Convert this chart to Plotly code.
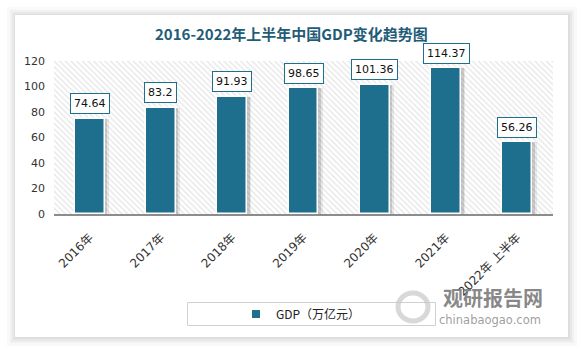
import plotly.graph_objects as go

# ---- data ----
categories = ["2016年", "2017年", "2018年", "2019年", "2020年", "2021年", "2022年 上半年"]
gdp_values = [74.64, 83.2, 91.93, 98.65, 101.36, 114.37, 56.26]
y_ticks = [0, 20, 40, 60, 80, 100, 120]
series_name = "GDP（万亿元）"
title_text = "2016-2022年上半年中国GDP变化趋势图"

# ---- layout constants ----
W, H = 583, 349
L, R, T, B = 54, 30, 61, 135
PW, PH = W - L - R, H - T - B
BAR_COLOR = "#1e6e8e"
BAR_W = 0.42

def xp(px):
    return (px - L) / PW

def yp(py):
    return (H - B - py) / PH

idx = list(range(len(categories)))
y_max = y_ticks[-1]

fig = go.Figure()

# hatched plot background
fig.add_trace(go.Bar(
    x=[(len(categories) - 1) / 2], y=[y_max], width=[len(categories)],
    marker=dict(color="white", line=dict(width=0),
                pattern=dict(shape="\\", fgcolor="#cfcfcf", bgcolor="white", size=4, solidity=0.35)),
    hoverinfo="skip", showlegend=False,
))

# bar shadows
for off, alpha in [(0.06, 0.08), (0.035, 0.13)]:
    fig.add_trace(go.Bar(
        x=idx, y=gdp_values, width=BAR_W, offset=-BAR_W / 2 + off,
        marker=dict(color=f"rgba(0,0,0,{alpha})", line=dict(width=0)),
        hoverinfo="skip", showlegend=False,
    ))

# main bars
fig.add_trace(go.Bar(
    x=idx, y=gdp_values, width=BAR_W, offset=-BAR_W / 2,
    marker=dict(color=BAR_COLOR, line=dict(color="white", width=1.5)),
    name=series_name, showlegend=False,
))

# legend entry
fig.add_trace(go.Scatter(
    x=[None], y=[None], mode="markers", name=series_name,
    marker=dict(symbol="square", size=8, color=BAR_COLOR),
))

# data labels
annotations = []
for i, v in zip(idx, gdp_values):
    annotations.append(dict(
        x=i, y=v, xref="x", yref="y", text=f"{v:g}", showarrow=False,
        yshift=15, font=dict(family="DejaVu Sans", size=11, color="#111111"),
        bgcolor="white", bordercolor=BAR_COLOR, borderwidth=1, borderpad=3,
    ))

# title
annotations.append(dict(
    x=xp(291), y=yp(33), xref="paper", yref="paper", text=f"<b>{title_text}</b>", showarrow=False,
    font=dict(family="Noto Sans CJK SC", size=15, color="#1f5c78"),
    xanchor="center", yanchor="middle",
))

# watermark
annotations.append(dict(
    x=xp(493), y=yp(297), xref="paper", yref="paper", text="<b>观研报告网</b>", showarrow=False,
    font=dict(family="Noto Sans CJK SC", size=20, color="rgba(115,115,115,0.85)"),
    xanchor="center", yanchor="middle",
))
annotations.append(dict(
    x=xp(490), y=yp(320), xref="paper", yref="paper", text="chinabaogao.com", showarrow=False,
    font=dict(family="DejaVu Sans", size=11.5, color="rgba(140,140,140,0.85)"),
    xanchor="center", yanchor="middle",
))

shapes = []
# card shadow
for g, a in [(9, 0.025), (6, 0.03), (4, 0.035), (2, 0.04)]:
    shapes.append(dict(type="rect", xref="paper", yref="paper", layer="below",
                       x0=xp(15 - g + 1), x1=xp(568 + g), y0=yp(15 - g + 1), y1=yp(337 + g),
                       line=dict(width=0), fillcolor=f"rgba(0,0,0,{a})"))
# white card
shapes.append(dict(type="rect", xref="paper", yref="paper", layer="below",
                   x0=xp(15), x1=xp(568), y0=yp(15), y1=yp(337),
                   line=dict(width=0), fillcolor="white"))
# legend box
shapes.append(dict(type="rect", xref="paper", yref="paper", layer="below",
                   x0=xp(187.5), x1=xp(435.5), y0=yp(302.5), y1=yp(325.5),
                   line=dict(width=1, color="#d0d0d0"), fillcolor="rgba(0,0,0,0)"))
# watermark logo ring
shapes.append(dict(type="circle", xref="paper", yref="paper", layer="above",
                   x0=xp(398), x1=xp(428), y0=yp(293), y1=yp(321),
                   line=dict(width=5, color="rgba(200,200,200,0.7)"), fillcolor="rgba(0,0,0,0)"))

fig.update_layout(
    width=W, height=H,
    margin=dict(l=L, r=R, t=T, b=B),
    paper_bgcolor="white", plot_bgcolor="rgba(0,0,0,0)",
    barmode="overlay", bargap=0,
    showlegend=True,
    legend=dict(x=xp(236), y=yp(314), xanchor="left", yanchor="middle", orientation="h",
                bgcolor="rgba(0,0,0,0)", borderwidth=0,
                font=dict(family="Noto Sans CJK SC", size=12, color="#222222")),
    annotations=annotations, shapes=shapes,
    xaxis=dict(range=[-0.5, len(categories) - 0.5], tickvals=idx, ticktext=categories,
               tickangle=-45, showgrid=False, zeroline=False,
               showline=True, linecolor="#8c8c8c", linewidth=1.5,
               ticklabelstandoff=10,
               tickfont=dict(family="DejaVu Sans, Noto Sans CJK SC", size=12, color="#333333"),
               fixedrange=True),
    yaxis=dict(range=[0, y_max], tickvals=y_ticks, showgrid=False, zeroline=False,
               showline=False, ticklabelstandoff=8,
               tickfont=dict(family="DejaVu Sans", size=11, color="#333333"),
               fixedrange=True),
)

fig.write_html("out.html")
